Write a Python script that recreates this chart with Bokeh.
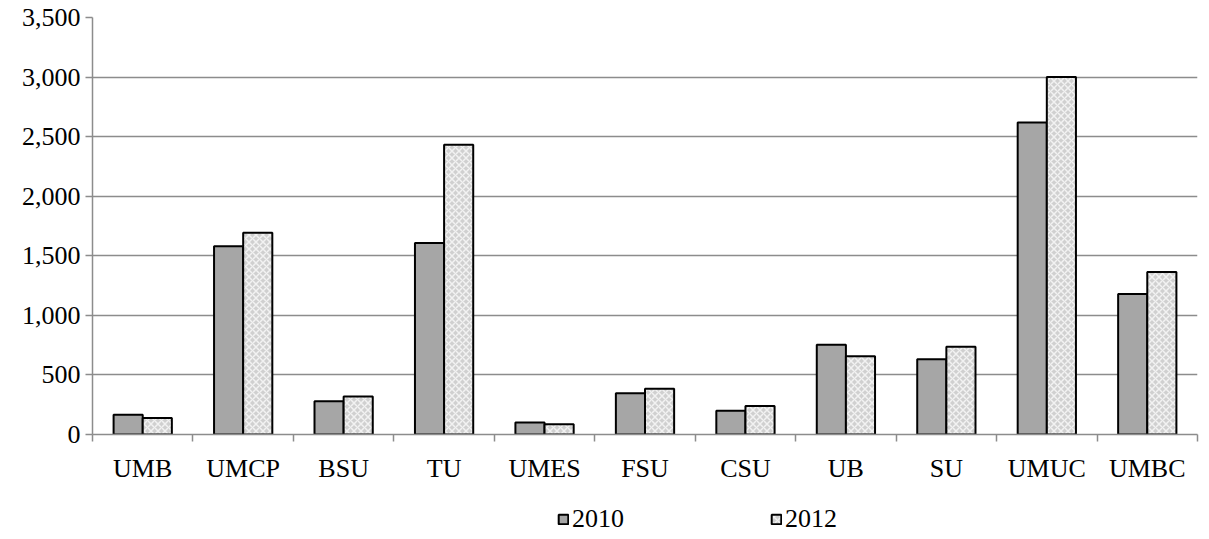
from bokeh.plotting import figure
from bokeh.layouts import column
from bokeh.models import (ColumnDataSource, FixedTicker, NumeralTickFormatter,
                          Range1d, Legend, LegendItem)
from bokeh.embed import file_html
from bokeh.resources import INLINE

# Enrollment by institution, two years
categories = ["UMB", "UMCP", "BSU", "TU", "UMES", "FSU", "CSU", "UB", "SU", "UMUC", "UMBC"]
values_2010 = [165, 1580, 279, 1607, 100, 346, 200, 754, 631, 2618, 1180]
values_2012 = [139, 1694, 318, 2432, 86, 383, 240, 656, 737, 3000, 1364]
y_ticks = [0, 500, 1000, 1500, 2000, 2500, 3000, 3500]
series_names = ["2010", "2012"]

FONT = "Liberation Serif"
FS = "26px"
BAR_W = 0.29
GRAY = "#8c8c8c"

STYLE_2010 = dict(fill_color="#a6a6a6", line_color="black", line_width=2)
STYLE_2012 = dict(fill_color="#d0d0d0", line_color="black", line_width=2,
                  hatch_pattern="diagonal_cross", hatch_color="#f2f2f2",
                  hatch_scale=7, hatch_weight=1.5)

centers = [i + 0.5 for i in range(len(categories))]
source = ColumnDataSource(dict(
    x10=[c - BAR_W / 2 for c in centers],
    x12=[c + BAR_W / 2 for c in centers],
    v10=values_2010,
    v12=values_2012,
))

p = figure(width=1209, height=495, output_backend="svg", toolbar_location=None,
           x_range=Range1d(0, len(categories)), y_range=Range1d(0, 3500),
           min_border_left=92, min_border_right=12, min_border_top=17,
           min_border_bottom=61)
p.outline_line_color = None
p.background_fill_color = "white"

p.vbar(x="x10", top="v10", width=BAR_W, source=source, **STYLE_2010)
p.vbar(x="x12", top="v12", width=BAR_W, source=source, **STYLE_2012)

# x axis: labels at group centers, tick marks between groups
xa = p.xaxis[0]
xa.ticker = FixedTicker(ticks=centers, minor_ticks=list(range(len(categories) + 1)))
xa.major_label_overrides = {c: name for c, name in zip(centers, categories)}
xa.major_tick_out = 0
xa.major_tick_in = 0
xa.minor_tick_out = 7
xa.minor_tick_in = 0
xa.minor_tick_line_color = GRAY
xa.minor_tick_line_width = 1.5
xa.axis_line_color = GRAY
xa.axis_line_width = 1.5
xa.major_label_text_font = FONT
xa.major_label_text_font_size = FS
xa.major_label_text_color = "black"
xa.major_label_standoff = 12

ya = p.yaxis[0]
ya.ticker = FixedTicker(ticks=y_ticks)
ya.formatter = NumeralTickFormatter(format="0,0")
ya.major_tick_out = 7
ya.major_tick_in = 0
ya.minor_tick_line_color = None
ya.major_tick_line_color = GRAY
ya.major_tick_line_width = 1.5
ya.axis_line_color = GRAY
ya.axis_line_width = 1.5
ya.major_label_text_font = FONT
ya.major_label_text_font_size = FS
ya.major_label_text_color = "black"
ya.major_label_standoff = 5

p.xgrid.grid_line_color = None
p.ygrid.grid_line_color = GRAY
p.ygrid.grid_line_width = 1.5

# legend strip under the chart: swatch-only renderers (a single empty row)
lg = figure(width=1209, height=44, output_backend="svg", toolbar_location=None,
            x_axis_location=None, y_axis_location=None,
            x_range=Range1d(0, 1), y_range=Range1d(0, 1),
            min_border_left=0, min_border_right=0, min_border_top=0,
            min_border_bottom=0)
lg.grid.visible = False
lg.outline_line_color = None
swatch = ColumnDataSource(dict(x=[float("nan")], top=[float("nan")]))
k10 = lg.vbar(x="x", top="top", width=0.1, source=swatch, **STYLE_2010)
k12 = lg.vbar(x="x", top="top", width=0.1, source=swatch, **STYLE_2012)

legend = Legend(items=[LegendItem(label=series_names[0], renderers=[k10]),
                       LegendItem(label=series_names[1], renderers=[k12])],
                orientation="horizontal", location=(465, 5),
                glyph_width=12, glyph_height=12, label_standoff=3,
                spacing=146, padding=0, margin=0,
                border_line_color=None, background_fill_alpha=0,
                label_text_font=FONT, label_text_font_size=FS,
                label_text_color="black")
lg.add_layout(legend, "center")

page = column(p, lg, spacing=0)
open("out.html", "w").write(file_html(page, INLINE))
